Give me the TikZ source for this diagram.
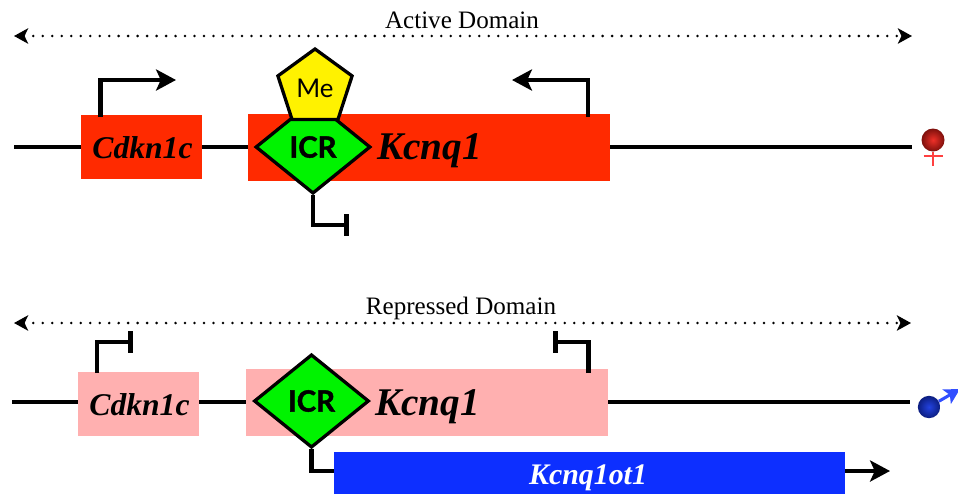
\documentclass[tikz,border=0pt]{standalone}
\usepackage{fontspec}
\usepackage{xcolor}
\usepackage{tikz}
\usetikzlibrary{arrows.meta,shapes.geometric}
\setmainfont{Liberation Serif}
\newfontfamily\labelfont[BoldFeatures={FakeBold=1.6}]{Lato}
\definecolor{activered}{HTML}{FF2A00}
\definecolor{silentpink}{HTML}{FFB0B0}
\definecolor{icrgreen}{HTML}{00F300}
\definecolor{barblue}{HTML}{0D2FFF}
\definecolor{ballredin}{HTML}{EE3028}
\definecolor{ballredout}{HTML}{7E100C}
\definecolor{ballbluein}{HTML}{2342E0}
\definecolor{ballblueout}{HTML}{0C1E80}
\tikzset{
    chrom/.style={line width=4.2pt},
    domainline/.style={line width=2.4pt,line cap=round,dash pattern=on 0pt off 8.1pt,
        {Stealth[length=12pt,width=13pt,inset=3pt]}-{Stealth[length=12pt,width=13pt,inset=3pt]}},
    domaintext/.style={inner sep=0pt,font=\fontsize{21.4}{24}\selectfont},
    genebox/.style={rectangle,inner sep=0pt,minimum width=3.63cm,minimum height=1.92cm},
    longbox/.style={rectangle,inner sep=0pt,minimum width=10.86cm,minimum height=2.01cm},
    genetext/.style={inner sep=0pt,font=\fontsize{27}{30}\selectfont\bfseries\itshape},
    longtext/.style={inner sep=0pt,font=\fontsize{33.5}{36}\selectfont\bfseries\itshape},
    icr/.style={draw,line width=2.8pt,diamond,aspect=1.23,fill=icrgreen,inner sep=0pt,
        minimum width=3.45cm,minimum height=2.8cm,font=\labelfont\fontsize{25}{28}\selectfont\bfseries},
    prom/.style={line width=3.8pt,-{Stealth[length=17pt,width=18pt,inset=4pt]}},
    block/.style={line width=3.8pt,-{Bar[width=18pt,line width=4pt]}},
    symline/.style={line width=2.2pt,color=red!75!white},
}
\begin{document}
\begin{tikzpicture}[x=0.03cm,y=-0.03cm]
    \useasboundingbox (0,0) rectangle (958,495);
    % active domain
    \coordinate (actl) at (14,36);
    \coordinate (actr) at (912,36);
    \node[domaintext] (acttext) at (462,20) {Active Domain};
    \draw[domainline] (actl) -- (actr);
    \coordinate (lineal) at (14,147);
    \coordinate (linear) at (912,147);
    \node[genebox,fill=activered] (cdkna) at (141.5,147) {};
    \node[longbox,fill=activered] (kcnqa) at (429,147.5) {};
    \node[genetext] (cdknatext) at (142.5,148) {Cdkn1c};
    \node[longtext] (kcnqatext) at (429.5,151) {Kcnq1};
    \draw[chrom] (lineal) -- (cdkna.west);
    \draw[chrom] (cdkna.east) -- (cdkna.east -| kcnqa.west);
    \draw[chrom] (kcnqa.east |- linear) -- (linear);
    \node[icr] (icra) at (313,147) {ICR};
    \node[draw,line width=2.8pt,regular polygon,regular polygon sides=5,fill=yellow,inner sep=0pt,
        minimum size=2.34cm,font=\labelfont\fontsize{22}{24}\selectfont] (me) at (315,88) {\raisebox{-2pt}{Me}};
    \coordinate (proma) at (100.5,117);
    \coordinate (promaend) at (176,80);
    \coordinate (promb) at (588,117);
    \coordinate (prombend) at (512,80);
    \coordinate (icrend) at (349,225);
    \draw[prom] (proma) |- (promaend);
    \draw[prom] (promb) |- (prombend);
    \draw[block] (icra.south) |- (icrend);
    % repressed domain
    \coordinate (repl) at (14,323);
    \coordinate (repr) at (911,323);
    \node[domaintext] (reptext) at (461,308.5) {Repressed Domain};
    \draw[domainline] (repl) -- (repr);
    \coordinate (linebl) at (12,402);
    \coordinate (linebr) at (910,402);
    \node[genebox,fill=silentpink] (cdknb) at (138.5,404) {};
    \node[longbox,fill=silentpink] (kcnqb) at (427,402.5) {};
    \node[genetext] (cdknbtext) at (139.5,405) {Cdkn1c};
    \node[longtext] (kcnqbtext) at (427.5,407) {Kcnq1};
    \draw[chrom] (linebl) -- (cdknb.west |- linebl);
    \draw[chrom] (cdknb.east |- linebl) -- (kcnqb.west |- linebl);
    \draw[chrom] (kcnqb.east |- linebr) -- (linebr);
    \node[icr] (icrb) at (311.5,401) {ICR};
    \coordinate (promc) at (97,373);
    \coordinate (promcend) at (133,342);
    \coordinate (promd) at (588.5,373);
    \coordinate (promdend) at (553,342);
    \draw[block] (promc) |- (promcend);
    \draw[block] (promd) |- (promdend);
    \node[rectangle,fill=barblue,inner sep=0pt,minimum width=15.33cm,minimum height=1.26cm] (ot) at (589.5,473) {};
    \node[text=white,inner sep=0pt,font=\fontsize{25.5}{28}\selectfont\bfseries\itshape] (ottext) at (588,478) {Kcnq1ot1};
    \coordinate (otend) at (890,471);
    \draw[chrom] (icrb.south) |- (ot.west |- otend);
    \draw[prom] (ot.east |- otend) -- (otend);
    % parental symbols
    \node[circle,inner sep=0pt,minimum size=0.69cm,inner color=ballredin,outer color=ballredout] (female) at (933,140) {};
    \coordinate (femalebot) at (933,166);
    \coordinate (crossl) at (923.5,156);
    \coordinate (crossr) at (943,156);
    \draw[symline] (female.south) -- (femalebot);
    \draw[symline] (crossl) -- (crossr);
    \node[circle,inner sep=0pt,minimum size=0.67cm,inner color=ballbluein,outer color=ballblueout] (male) at (929,407) {};
    \coordinate (maleend) at (960,389);
    \draw[line width=2.6pt,color=barblue!85!white,-{Stealth[length=13pt,width=14pt,inset=3pt]}] (male) -- (maleend);
\end{tikzpicture}
\end{document}
